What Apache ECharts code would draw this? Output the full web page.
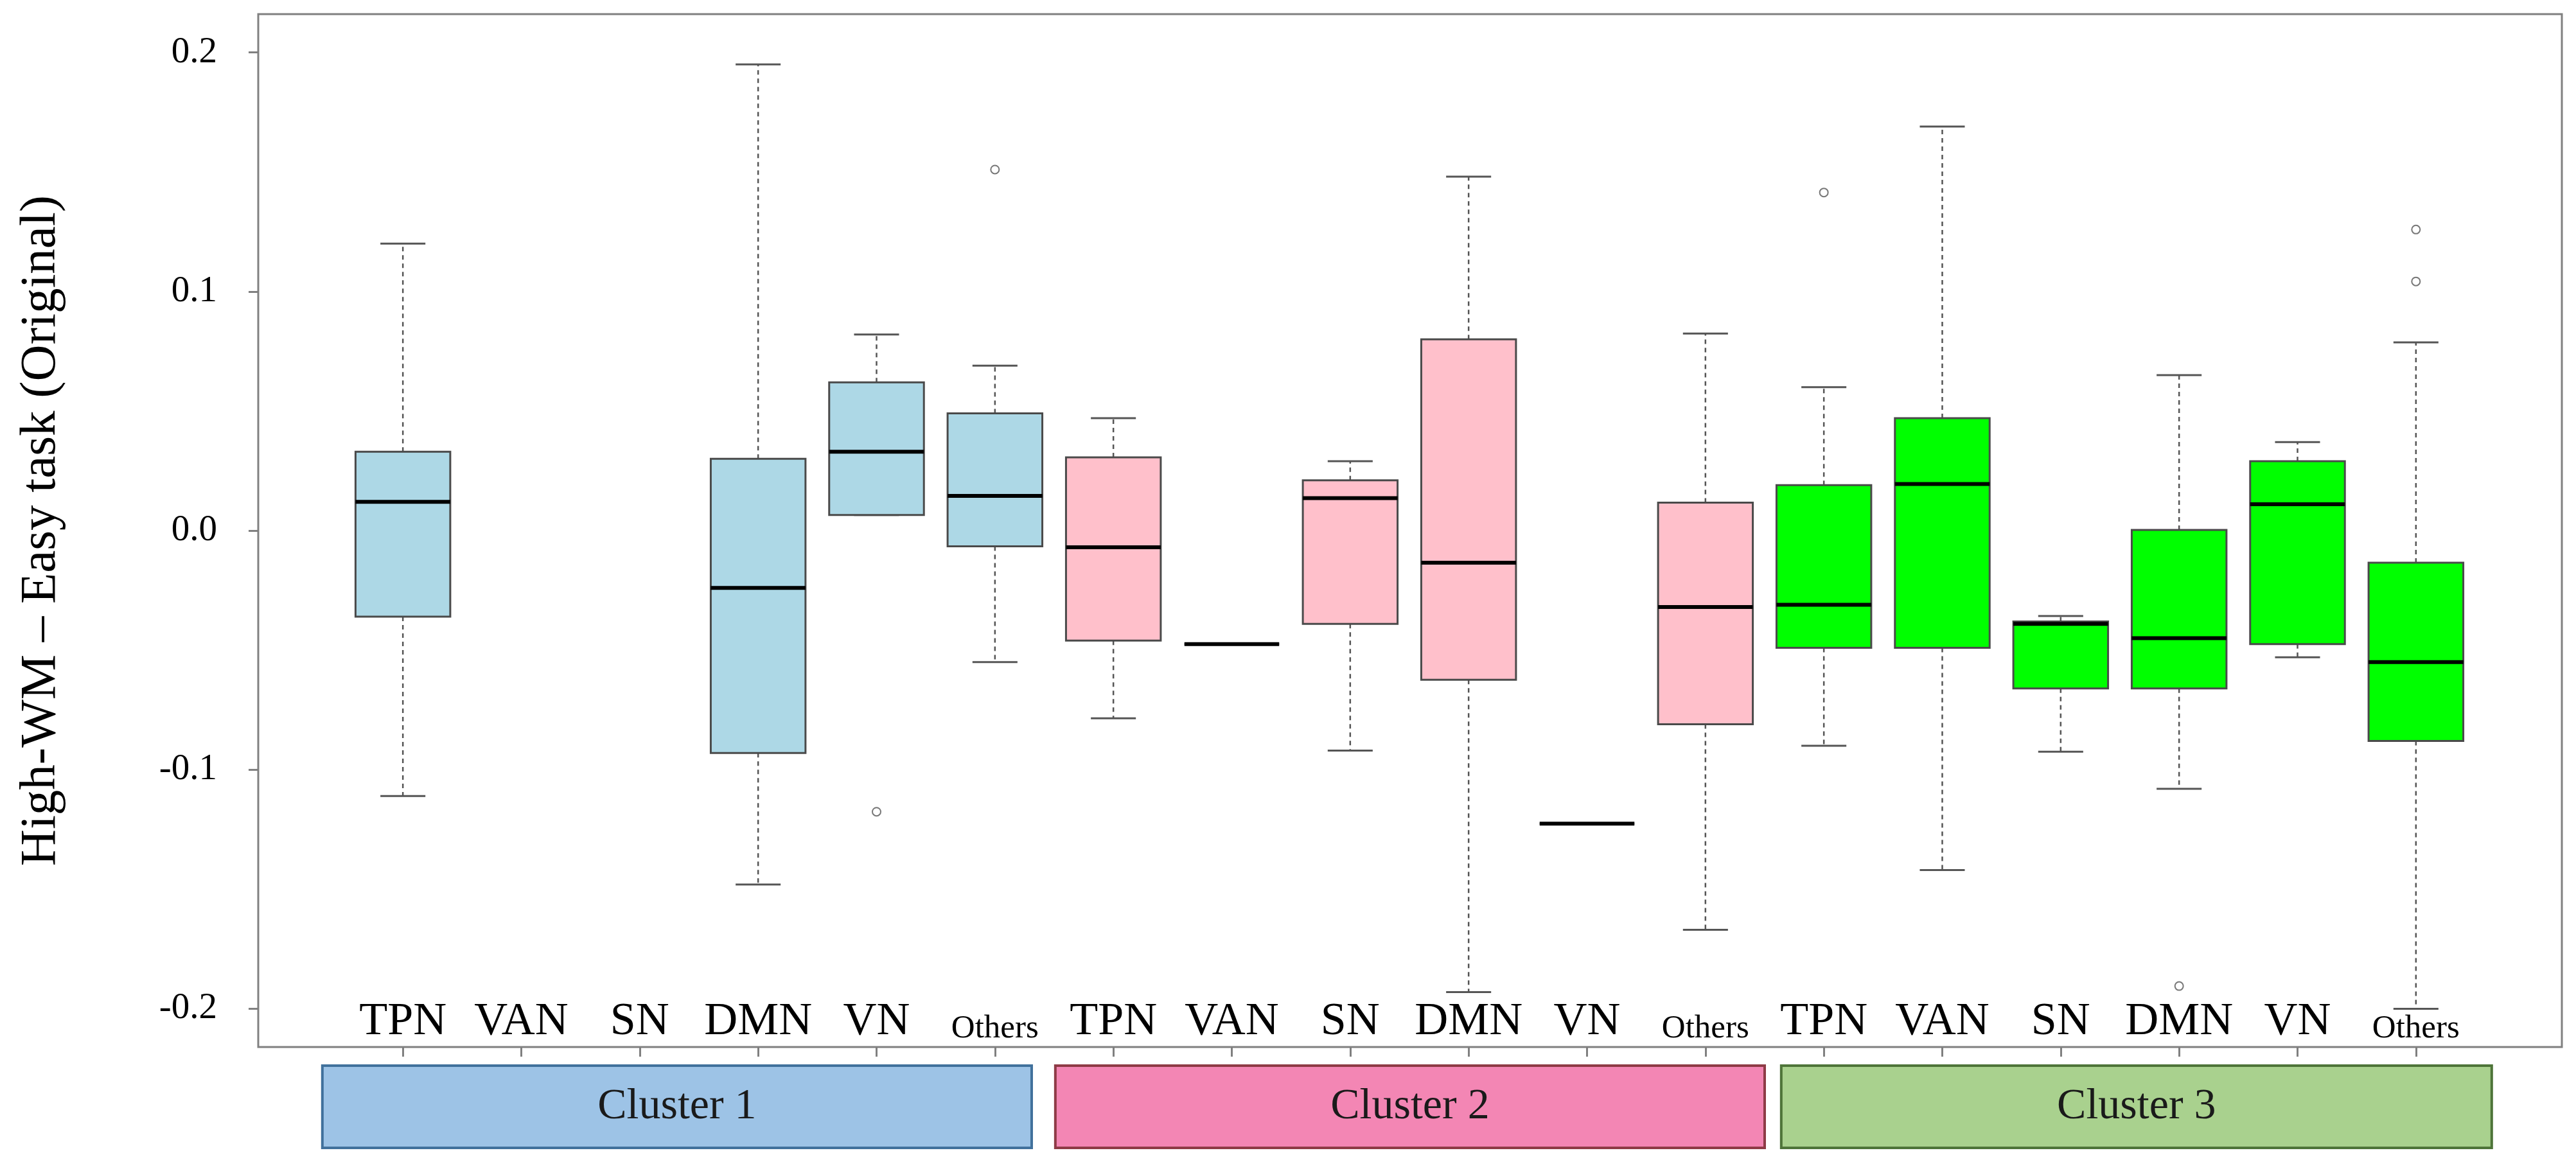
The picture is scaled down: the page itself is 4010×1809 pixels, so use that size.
<!DOCTYPE html>
<html>
<head>
<meta charset="utf-8">
<title>High-WM - Easy task boxplot</title>
<script src="https://cdn.jsdelivr.net/npm/echarts@6/dist/echarts.min.js"></script>
<style>
  html, body { margin: 0; padding: 0; background: #fff; }
  #chart { width: 4010px; height: 1809px; }
</style>
</head>
<body>
<div id="chart"></div>
<script>
// categories along the x axis, 6 networks per cluster
const categories = [
  'TPN', 'VAN', 'SN', 'DMN', 'VN', 'Others',
  'TPN', 'VAN', 'SN', 'DMN', 'VN', 'Others',
  'TPN', 'VAN', 'SN', 'DMN', 'VN', 'Others'
];
const clusterNames = ['Cluster 1', 'Cluster 2', 'Cluster 3'];
// span of each cluster strip, in category units
const clusterStart = [-0.68, 5.51, 11.64];
const clusterEnd = [5.31, 11.5, 17.64];

// box statistics (null = no data for that network)
const lowerWhisker = [-0.111, null, null, -0.148, 0.0065, -0.055, -0.0785, -0.0475, -0.092, -0.193, -0.1226, -0.167, -0.090, -0.142, -0.0925, -0.108, -0.053, -0.200];
const firstQuartile = [-0.036, null, null, -0.093, 0.0065, -0.0066, -0.046, -0.0475, -0.039, -0.0624, -0.1226, -0.081, -0.049, -0.049, -0.066, -0.066, -0.0475, -0.088];
const medians = [0.012, null, null, -0.024, 0.033, 0.0145, -0.007, -0.0475, 0.0136, -0.0134, -0.1226, -0.032, -0.031, 0.0195, -0.039, -0.045, 0.011, -0.055];
const thirdQuartile = [0.033, null, null, 0.030, 0.062, 0.049, 0.0306, -0.0475, 0.021, 0.080, -0.1226, 0.0117, 0.019, 0.047, -0.038, 0.0003, 0.029, -0.0134];
const upperWhisker = [0.120, null, null, 0.195, 0.082, 0.069, 0.047, -0.0475, 0.029, 0.148, -0.1226, 0.0824, 0.060, 0.169, -0.0357, 0.065, 0.037, 0.0787];

// outliers
const outlierCategory = [4, 5, 12, 15, 17, 17];
const outlierValues = [-0.1176, 0.151, 0.1414, -0.1905, 0.1259, 0.1042];

const yTicks = [-0.2, -0.1, 0.0, 0.1, 0.2];

const boxFills = ['#ADD8E6', '#FFC0CB', '#00FF00'];
const stripFills = ['#9DC3E6', '#F386B4', '#A9D18E'];
const stripBorders = ['#41719C', '#8E3B46', '#4E7439'];

const FONT = '"Liberation Serif", "Times New Roman", serif';
const Y_MIN = -0.216, Y_MAX = 0.216;

const boxData = [];
categories.forEach((c, i) => {
  if (medians[i] == null) return;
  boxData.push([i, lowerWhisker[i], firstQuartile[i], medians[i], thirdQuartile[i], upperWhisker[i]]);
});
const outlierData = outlierCategory.map((c, i) => [c, outlierValues[i]]);
const clusterData = clusterNames.map((n, i) => [clusterStart[i], clusterEnd[i], i]);

function renderBox(params, api) {
  const idx = api.value(0);
  const band = api.size([1, 0])[0];
  const bw = band * 0.8, cw = band * 0.38;
  const pLo = api.coord([idx, api.value(1)]);
  const pQ1 = api.coord([idx, api.value(2)]);
  const pMed = api.coord([idx, api.value(3)]);
  const pQ3 = api.coord([idx, api.value(4)]);
  const pHi = api.coord([idx, api.value(5)]);
  const cx = pMed[0];
  const dash = { stroke: '#555', lineWidth: 2.5, lineDash: [7, 6] };
  const solid = { stroke: '#555', lineWidth: 3 };
  return {
    type: 'group',
    children: [
      { type: 'line', shape: { x1: cx, y1: pQ3[1], x2: cx, y2: pHi[1] }, style: dash },
      { type: 'line', shape: { x1: cx, y1: pQ1[1], x2: cx, y2: pLo[1] }, style: dash },
      { type: 'line', shape: { x1: cx - cw / 2, y1: pHi[1], x2: cx + cw / 2, y2: pHi[1] }, style: solid },
      { type: 'line', shape: { x1: cx - cw / 2, y1: pLo[1], x2: cx + cw / 2, y2: pLo[1] }, style: solid },
      {
        type: 'rect',
        shape: { x: cx - bw / 2, y: pQ3[1], width: bw, height: pQ1[1] - pQ3[1] },
        style: { fill: boxFills[Math.floor(idx / 6)], stroke: '#4a4a4a', lineWidth: 3 }
      },
      { type: 'line', shape: { x1: cx - bw / 2, y1: pMed[1], x2: cx + bw / 2, y2: pMed[1] }, style: { stroke: '#000', lineWidth: 6 } }
    ]
  };
}

function renderStrip(params, api) {
  const i = api.value(2);
  const p0 = api.coord([api.value(0), 1]);
  const p1 = api.coord([api.value(1), 0]);
  return {
    type: 'group',
    children: [
      {
        type: 'rect',
        shape: { x: p0[0], y: p0[1], width: p1[0] - p0[0], height: p1[1] - p0[1] },
        style: { fill: stripFills[i], stroke: stripBorders[i], lineWidth: 4 }
      },
      {
        type: 'text',
        style: {
          text: clusterNames[i], x: (p0[0] + p1[0]) / 2, y: (p0[1] + p1[1]) / 2,
          align: 'center', verticalAlign: 'middle',
          fontSize: 68, fontFamily: FONT, fill: '#1a1a1a'
        }
      }
    ]
  };
}

const chart = echarts.init(document.getElementById('chart'));
chart.setOption({
  animation: false,
  backgroundColor: '#fff',
  grid: [
    { left: 402, right: 22, top: 22, bottom: 179, show: true, borderColor: '#808080', borderWidth: 3 },
    { left: 535, right: 157, top: 22, bottom: 179 },
    { left: 535, right: 157, top: 1659, height: 128 }
  ],
  xAxis: [
    { gridIndex: 0, type: 'value', show: false, min: 0, max: 1 },
    {
      gridIndex: 1, type: 'category', data: categories,
      axisLine: { show: false, onZero: false },
      axisTick: { show: true, alignWithLabel: true, length: 15, lineStyle: { color: '#808080', width: 3 } },
      axisLabel: {
        inside: true, margin: 3, interval: 0, color: '#000',
        formatter: v => v === 'Others' ? '{s|Others}' : '{b|' + v + '}',
        rich: {
          b: { fontSize: 72, fontFamily: FONT, color: '#000' },
          s: { fontSize: 51, fontFamily: FONT, color: '#000' }
        }
      }
    },
    { gridIndex: 2, type: 'value', show: false, min: -0.5, max: 17.5 }
  ],
  yAxis: [
    {
      gridIndex: 0, type: 'value', min: Y_MIN, max: Y_MAX,
      name: 'High-WM \u2013 Easy task (Original)', nameLocation: 'middle', nameGap: 298,
      nameTextStyle: { fontSize: 79, fontFamily: FONT, color: '#000' },
      axisLine: { show: false },
      splitLine: { show: false },
      axisTick: { show: true, length: 15, customValues: yTicks, lineStyle: { color: '#808080', width: 3 } },
      axisLabel: {
        customValues: yTicks, margin: 64, fontSize: 57, fontFamily: FONT, color: '#000',
        formatter: v => v.toFixed(1)
      }
    },
    { gridIndex: 1, type: 'value', min: Y_MIN, max: Y_MAX, show: false },
    { gridIndex: 2, type: 'value', min: 0, max: 1, show: false }
  ],
  series: [
    {
      type: 'custom', xAxisIndex: 1, yAxisIndex: 1,
      renderItem: renderBox, data: boxData,
      encode: { x: 0, y: [1, 2, 3, 4, 5] }
    },
    {
      type: 'scatter', xAxisIndex: 1, yAxisIndex: 1,
      symbol: 'emptyCircle', symbolSize: 13, z: 5,
      itemStyle: { color: '#555', borderWidth: 2.5 },
      data: outlierData
    },
    {
      type: 'custom', xAxisIndex: 2, yAxisIndex: 2,
      renderItem: renderStrip, data: clusterData,
      encode: { x: [0, 1] }
    }
  ]
});
</script>
</body>
</html>
